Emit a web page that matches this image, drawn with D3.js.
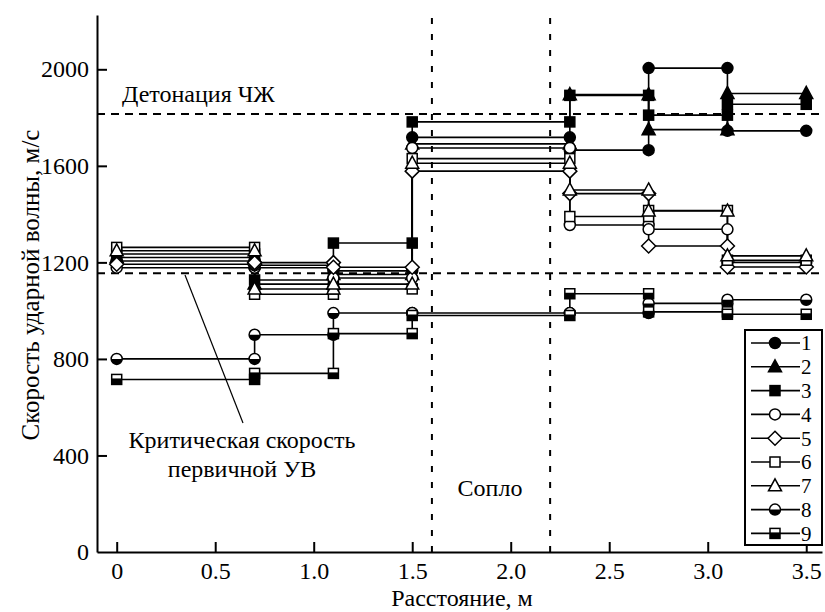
<html>
<head>
<meta charset="utf-8">
<script src="https://d3js.org/d3.v7.min.js"></script>
<style>
body { margin: 0; background: white; }
</style>
</head>
<body>
<svg id="svg1" width="825" height="612"></svg>
<script>
// distances (m) where the measuring points are
var xs = [0, 0.7, 1.1, 1.5, 2.3, 2.7, 3.1, 3.5];
// one value per segment [xs[i], xs[i+1]]
var s1 = [1206, 1178, 1165, 1718, 1665, 2005, 1745];
var s2 = [1220, 1110, 1150, 1691, 1895, 1750, 1900];
var s3 = [1235, 1127, 1280, 1782, 1892, 1810, 1855];
var s4 = [1178, 1188, 1135, 1674, 1355, 1337, 1200];
var s5 = [1192, 1199, 1180, 1578, 1485, 1268, 1181];
var s6 = [1262, 1068, 1090, 1630, 1390, 1415, 1209];
var s7 = [1248, 1090, 1110, 1611, 1500, 1413, 1227];
var s8 = [800, 900, 990, 990, 990, 1030, 1045];
var s9 = [715, 740, 905, 980, 1070, 995, 985];
var names = ["1", "2", "3", "4", "5", "6", "7", "8", "9"];
var markers = ["circleF", "triF", "squareF", "circleO", "diamondO", "squareO", "triO", "circleH", "squareH"];
var xTicks = [0, 0.5, 1.0, 1.5, 2.0, 2.5, 3.0, 3.5];
var yTicks = [0, 400, 800, 1200, 1600, 2000];
var detonation = 1815;
var critical = 1155;
var nozzle = [1.6, 2.2];

var series = [s1, s2, s3, s4, s5, s6, s7, s8, s9];
var drawOrder = [2, 0, 1, 3, 4, 5, 6, 7, 8]; // squares under the triangles
var FONT = "'Liberation Serif', 'Times New Roman', Times, serif";
var FS = 24;

var svg = d3.select("#svg1");
var x = d3.scaleLinear().domain([-0.1, 3.58]).range([97, 822]);
var y = d3.scaleLinear().domain([0, 2225]).range([552, 15]);

// axes
svg.append("g")
  .attr("transform", "translate(" + x.range()[0] + ",0)")
  .call(d3.axisLeft(y).tickValues(yTicks).tickSizeInner(-10).tickSizeOuter(0).tickPadding(8).tickFormat(d3.format("d")))
  .call(function(g) {
    g.select(".domain").attr("stroke-width", 2);
    g.selectAll(".tick line").attr("stroke-width", 2).filter(function(d) { return d == 0; }).remove();
    g.selectAll("text").style("font-family", FONT).style("font-size", FS + "px");
  });

svg.append("g")
  .attr("transform", "translate(0," + y(0) + ")")
  .call(d3.axisBottom(x).tickValues(xTicks).tickSizeInner(-10).tickSizeOuter(0).tickPadding(10)
    .tickFormat(function(d) { return d == 0 ? "0" : d3.format(".1f")(d); }))
  .call(function(g) {
    g.select(".domain").attr("stroke-width", 2);
    g.selectAll(".tick line").attr("stroke-width", 2);
    g.selectAll("text").style("font-family", FONT).style("font-size", FS + "px");
  });

// reference lines
[detonation, critical].forEach(function(v) {
  svg.append("line")
    .attr("x1", x.range()[0]).attr("x2", x.range()[1])
    .attr("y1", y(v)).attr("y2", y(v))
    .attr("stroke", "black").attr("stroke-width", 2)
    .attr("stroke-dasharray", "8,6");
});
nozzle.forEach(function(v) {
  svg.append("line")
    .attr("x1", x(v)).attr("x2", x(v))
    .attr("y1", 18).attr("y2", y(0))
    .attr("stroke", "black").attr("stroke-width", 2)
    .attr("stroke-dasharray", "6,10");
});

// step lines
var line = d3.line()
  .x(function(d) { return x(d[0]); })
  .y(function(d) { return y(d[1]); })
  .curve(d3.curveStepAfter);

series.forEach(function(s) {
  var pts = xs.map(function(xv, i) { return [xv, s[Math.min(i, s.length - 1)]]; });
  svg.append("path")
    .attr("d", line(pts))
    .attr("fill", "none")
    .attr("stroke", "black")
    .attr("stroke-width", 1.6);
});

function drawMarker(g, type, cx, cy) {
  var m = g.append("g").attr("transform", "translate(" + cx + "," + cy + ")");
  var r = 5.5, h = 5;
  if (type.indexOf("circle") == 0) {
    m.append("circle").attr("r", r)
      .attr("fill", type == "circleF" ? "black" : "white")
      .attr("stroke", "black").attr("stroke-width", 1.5);
    if (type == "circleH")
      m.append("path").attr("d", "M" + (-r) + ",0A" + r + "," + r + " 0 0 0 " + r + ",0Z").attr("fill", "black");
  } else if (type.indexOf("square") == 0) {
    m.append("rect").attr("x", -h).attr("y", -h).attr("width", 2 * h).attr("height", 2 * h)
      .attr("fill", type == "squareF" ? "black" : "white")
      .attr("stroke", "black").attr("stroke-width", 1.5);
    if (type == "squareH")
      m.append("rect").attr("x", -h).attr("y", -1).attr("width", 2 * h).attr("height", h + 1).attr("fill", "black");
  } else if (type.indexOf("tri") == 0) {
    m.append("path").attr("d", "M0,-7L6.5,5L-6.5,5Z")
      .attr("fill", type == "triF" ? "black" : "white")
      .attr("stroke", "black").attr("stroke-width", 1.5).attr("stroke-linejoin", "miter");
  } else {
    m.append("path").attr("d", "M0,-7L7,0L0,7L-7,0Z")
      .attr("fill", "white").attr("stroke", "black").attr("stroke-width", 1.5);
  }
}

// markers at both ends of every segment
var mg = svg.append("g");
drawOrder.forEach(function(k) {
  series[k].forEach(function(v, i) {
    drawMarker(mg, markers[k], x(xs[i]), y(v));
    drawMarker(mg, markers[k], x(xs[i + 1]), y(v));
  });
});

function label(xp, yp, txt, anchor) {
  return svg.append("text").attr("x", xp).attr("y", yp)
    .attr("text-anchor", anchor || "start")
    .style("font-family", FONT).style("font-size", FS + "px")
    .text(txt);
}

// annotations
label(122, 102, "Детонация ЧЖ");
label(490, 496, "Сопло", "middle");
label(242, 448, "Критическая скорость", "middle");
label(242, 477, "первичной УВ", "middle");
svg.append("line").attr("x1", 185).attr("y1", 275).attr("x2", 243).attr("y2", 423)
  .attr("stroke", "black").attr("stroke-width", 1.2);

label(0, 0, "Скорость ударной волны, м/с", "middle")
  .attr("transform", "translate(30,285) rotate(-90)")
  .attr("dy", "0.35em")
  .style("font-size", "25px");
label(462, 606, "Расстояние, м", "middle");

// legend
var lg = svg.append("g");
lg.append("rect").attr("x", 745).attr("y", 330).attr("width", 77).attr("height", 215)
  .attr("fill", "white").attr("stroke", "black").attr("stroke-width", 2);
names.forEach(function(n, i) {
  var ly = 343 + i * 23.8;
  lg.append("line").attr("x1", 751).attr("x2", 800).attr("y1", ly).attr("y2", ly)
    .attr("stroke", "black").attr("stroke-width", 1.6);
  drawMarker(lg, markers[i], 775, ly);
  lg.append("text").attr("x", 801).attr("y", ly).attr("dy", "0.35em")
    .style("font-family", FONT).style("font-size", "21px").text(n);
});
</script>
</body>
</html>
